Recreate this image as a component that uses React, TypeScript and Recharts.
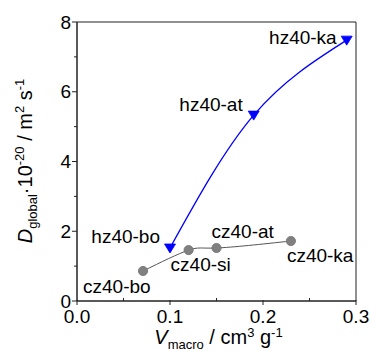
import React from 'react';
import { ScatterChart, Scatter, XAxis, YAxis, ReferenceArea } from 'recharts';

const hzNames = ['hz40-bo', 'hz40-at', 'hz40-ka'];
const hzVmacro = [0.1, 0.19, 0.29];
const hzD = [1.52, 5.33, 7.48];

const czNames = ['cz40-bo', 'cz40-si', 'cz40-at', 'cz40-ka'];
const czVmacro = [0.071, 0.12, 0.15, 0.23];
const czD = [0.86, 1.46, 1.52, 1.72];

const xTicks = [0, 0.05, 0.1, 0.15, 0.2, 0.25, 0.3];
const xTickLabels = ['0.0', '', '0.1', '', '0.2', '', '0.3'];
const yTicks = [0, 1, 2, 3, 4, 5, 6, 7, 8];
const yTickLabels = ['0', '', '2', '', '4', '', '6', '', '8'];

const hzData = hzNames.map((name, i) => ({ name, x: hzVmacro[i], y: hzD[i] }));
const czData = czNames.map((name, i) => ({ name, x: czVmacro[i], y: czD[i] }));

const FONT = '"Liberation Sans", Arial, Helvetica, sans-serif';

const labelStyle: Record<string, { anchor: 'start' | 'end'; dx: number; dy: number }> = {
  'hz40-ka': { anchor: 'end', dx: -10, dy: 4 },
  'hz40-at': { anchor: 'end', dx: -11, dy: -4 },
  'hz40-bo': { anchor: 'end', dx: -10, dy: -5 },
  'cz40-bo': { anchor: 'start', dx: -60, dy: 22 },
  'cz40-si': { anchor: 'start', dx: -18, dy: 21 },
  'cz40-at': { anchor: 'start', dx: -5, dy: -10 },
  'cz40-ka': { anchor: 'start', dx: -4, dy: 21 },
};

const PointLabel = ({ cx, cy, name }: { cx: number; cy: number; name: string }) => {
  const s = labelStyle[name];
  return (
    <text x={cx + s.dx} y={cy + s.dy} textAnchor={s.anchor} fontSize={19} fontFamily={FONT} fill="#000">
      {name}
    </text>
  );
};

const TriangleShape = (props: any) => {
  const { cx, cy, payload } = props;
  return (
    <g>
      <polygon
        points={`${cx - 5.5},${cy - 4} ${cx + 5.5},${cy - 4} ${cx},${cy + 5}`}
        fill="#0000ff"
        stroke="#0000ff"
        strokeWidth={0.8}
      />
      <PointLabel cx={cx} cy={cy} name={payload.name} />
    </g>
  );
};

const CircleShape = (props: any) => {
  const { cx, cy, payload } = props;
  return (
    <g>
      <circle cx={cx} cy={cy} r={4.6} fill="#808080" stroke="#6e6e6e" strokeWidth={0.8} />
      <PointLabel cx={cx} cy={cy} name={payload.name} />
    </g>
  );
};

const XTick = (props: any) => {
  const { x, y, payload } = props;
  const label = xTickLabels[xTicks.indexOf(payload.value)] ?? '';
  const major = label !== '';
  return (
    <g>
      {major ? (
        <line x1={x} x2={x} y1={y - 1} y2={y + 4} stroke="#222" strokeWidth={1} />
      ) : (
        <line x1={x} x2={x} y1={y - 3} y2={y} stroke="#222" strokeWidth={1} />
      )}
      {major && (
        <text x={x} y={y + 22} textAnchor="middle" fontSize={19} fontFamily={FONT} fill="#000">
          {label}
        </text>
      )}
    </g>
  );
};

const YTick = (props: any) => {
  const { x, y, payload } = props;
  const label = yTickLabels[yTicks.indexOf(payload.value)] ?? '';
  const major = label !== '';
  return (
    <g>
      <line x1={x} x2={x - (major ? 5 : 3)} y1={y} y2={y} stroke="#222" strokeWidth={1} />
      {major && (
        <text x={x - 6} y={y + 6.5} textAnchor="end" fontSize={19} fontFamily={FONT} fill="#000">
          {label}
        </text>
      )}
    </g>
  );
};

export default function App() {
  return (
    <div style={{ position: 'absolute', left: 0, top: 0, width: 370, height: 351 }}>
      <ScatterChart width={370} height={351} margin={{ top: 22, right: 14, left: 0, bottom: 0 }}>
        <XAxis
          type="number"
          dataKey="x"
          domain={[0, 0.3]}
          ticks={xTicks}
          interval={0}
          tick={<XTick />}
          tickLine={false}
          tickSize={0}
          tickMargin={0}
          height={50}
          axisLine={{ stroke: '#222', strokeWidth: 1 }}
          allowDataOverflow
        />
        <YAxis
          type="number"
          dataKey="y"
          domain={[0, 8]}
          ticks={yTicks}
          interval={0}
          tick={<YTick />}
          tickLine={false}
          tickSize={0}
          tickMargin={0}
          width={77}
          axisLine={{ stroke: '#222', strokeWidth: 1 }}
          allowDataOverflow
        />
        <ReferenceArea x1={0} x2={0.3} y1={0} y2={8} fill="none" stroke="#222" strokeWidth={1} />
        <Scatter
          data={czData}
          line={{ stroke: '#555555', strokeWidth: 1 }}
          lineJointType="natural"
          shape={<CircleShape />}
          isAnimationActive={false}
        />
        <Scatter
          data={hzData}
          line={{ stroke: '#0000ff', strokeWidth: 1.3 }}
          lineJointType="natural"
          shape={<TriangleShape />}
          isAnimationActive={false}
        />
      </ScatterChart>
      <svg
        width={370}
        height={351}
        style={{ position: 'absolute', left: 0, top: 0, pointerEvents: 'none' }}
      >
        <text x={218.5} y={344} textAnchor="middle" fontSize={20} fontFamily={FONT} fill="#000">
          <tspan fontStyle="italic">V</tspan>
          <tspan fontSize={13} dy={5}>macro</tspan>
          <tspan dy={-5}> / cm</tspan>
          <tspan fontSize={13} dy={-7}>3</tspan>
          <tspan dy={7}> g</tspan>
          <tspan fontSize={13} dy={-7}>-1</tspan>
        </text>
        <text
          x={0}
          y={0}
          transform="translate(32,161) rotate(-90)"
          textAnchor="middle"
          fontSize={20}
          fontFamily={FONT}
          fill="#000"
        >
          <tspan fontStyle="italic">D</tspan>
          <tspan fontSize={13} dy={5}>global</tspan>
          <tspan dy={-5}>·10</tspan>
          <tspan fontSize={13} dy={-8}>-20</tspan>
          <tspan dy={8}> / m</tspan>
          <tspan fontSize={13} dy={-8}>2</tspan>
          <tspan dy={8}> s</tspan>
          <tspan fontSize={13} dy={-8}>-1</tspan>
        </text>
      </svg>
    </div>
  );
}
